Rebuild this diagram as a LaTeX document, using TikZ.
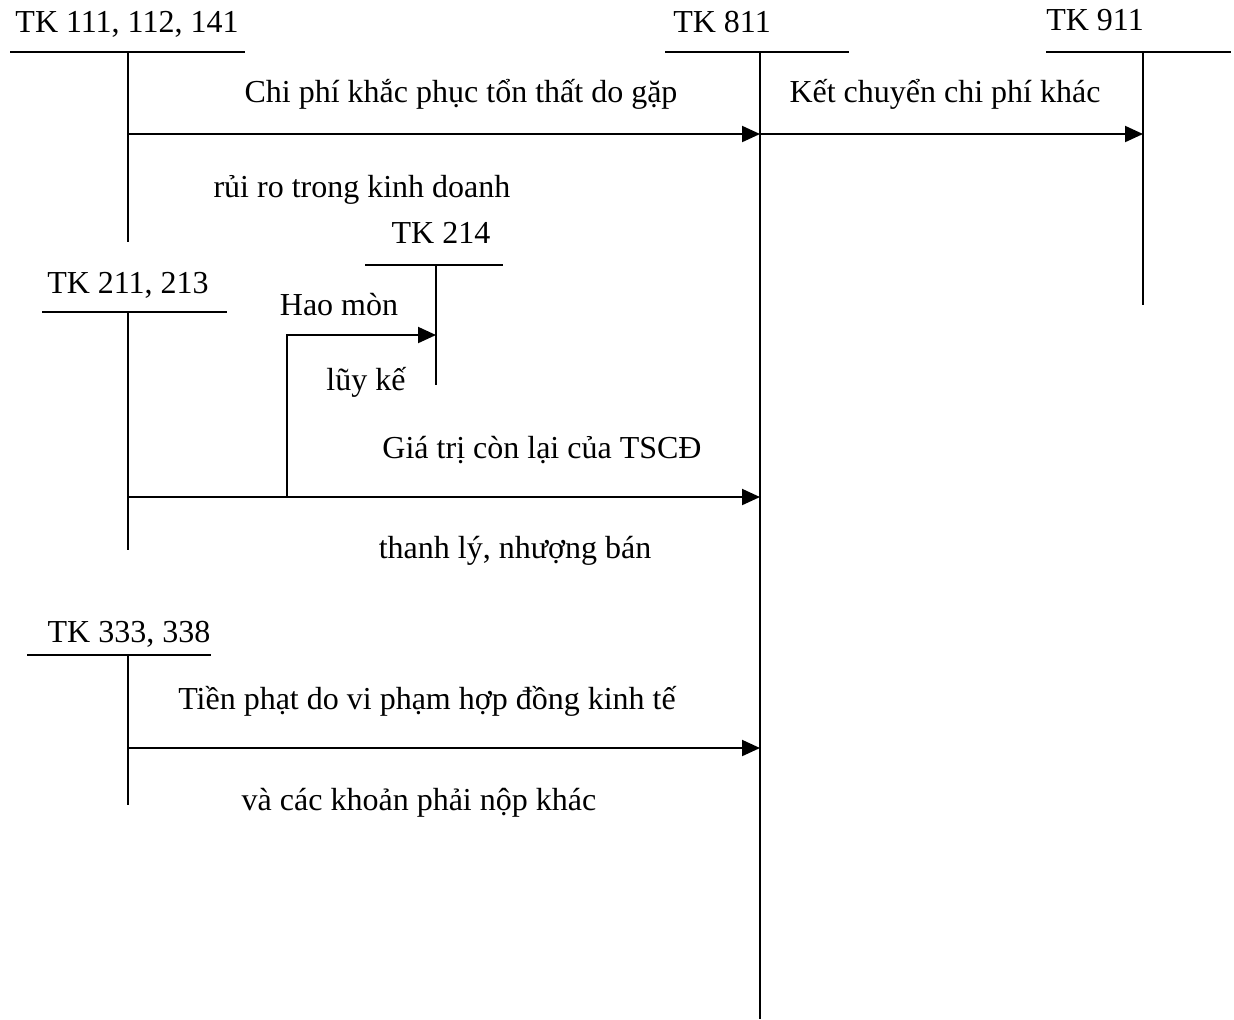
\documentclass[tikz,border=0pt]{standalone}
\usepackage{fontspec}
\setmainfont{Liberation Serif}
\usetikzlibrary{arrows.meta,calc}
\tikzset{pin/.style={-{Triangle[length=9pt,width=8pt]}, line width=1pt},
  tline/.style={line width=1pt},
  lbl/.style={font=\fontsize{16pt}{19pt}\selectfont, inner sep=0pt,
    text height=1.5ex, text depth=.25ex, yshift=-2.5pt}}

\begin{document}
\begin{tikzpicture}[x=0.5pt,y=-0.5pt]
  \useasboundingbox (0,0) rectangle (1234,1019);
  % T accounts: name/title/label pos/bar ends/bar y/stem x/stem end
  \foreach \n/\t/\lx/\ly/\xa/\xb/\yh/\xv/\yb in {
      k111/{TK 111, 112, 141}/127/22/10/245/52/128/242,
      k811/{TK 811}/722/22/665/849/52/760/1019,
      k911/{TK 911}/1095/20/1046/1231/52/1143/305,
      k214/{TK 214}/441/233/365/503/265/436/385,
      k211/{TK 211, 213}/128/283/42/227/312/128/550,
      k333/{TK 333, 338}/129/632/27/211/655/128/805}{
    \node[lbl] (\n) at (\lx,\ly) {\t};
    \draw[tline] (\xa,\yh) -- (\xb,\yh);
    \draw[tline] (\xv,\yh) coordinate (\n top) -- (\xv,\yb) coordinate (\n bot);
  }
  % rows of the entries
  \coordinate (r1) at (0,134);
  \coordinate (r2) at (0,497);
  \coordinate (r3) at (0,748);
  \coordinate (rh) at (287,335);
  \draw[pin] (k111top |- r1) -- (k811top |- r1);
  \draw[pin] (k811top |- r1) -- (k911top |- r1);
  \draw[pin] (k211top |- r2) -- (k811top |- r2);
  \draw[pin] (rh |- r2) -- (rh) -- (k214top |- rh);
  \draw[pin] (k333top |- r3) -- (k811top |- r3);
  % texts of the entries
  \node[lbl] (t1a) at (461,92) {Chi phí khắc phục tổn thất do gặp};
  \node[lbl] (t1b) at (362,187) {rủi ro trong kinh doanh};
  \node[lbl] (t2) at (945,92) {Kết chuyển chi phí khác};
  \node[lbl] (t3a) at (339,305) {Hao mòn};
  \node[lbl] (t3b) at (366,380) {lũy kế};
  \node[lbl] (t4a) at (542,448) {Giá trị còn lại của TSCĐ};
  \node[lbl] (t4b) at (515,548) {thanh lý, nhượng bán};
  \node[lbl] (t5a) at (427,699) {Tiền phạt do vi phạm hợp đồng kinh tế};
  \node[lbl] (t5b) at (419,800) {và các khoản phải nộp khác};
\end{tikzpicture}
\end{document}
